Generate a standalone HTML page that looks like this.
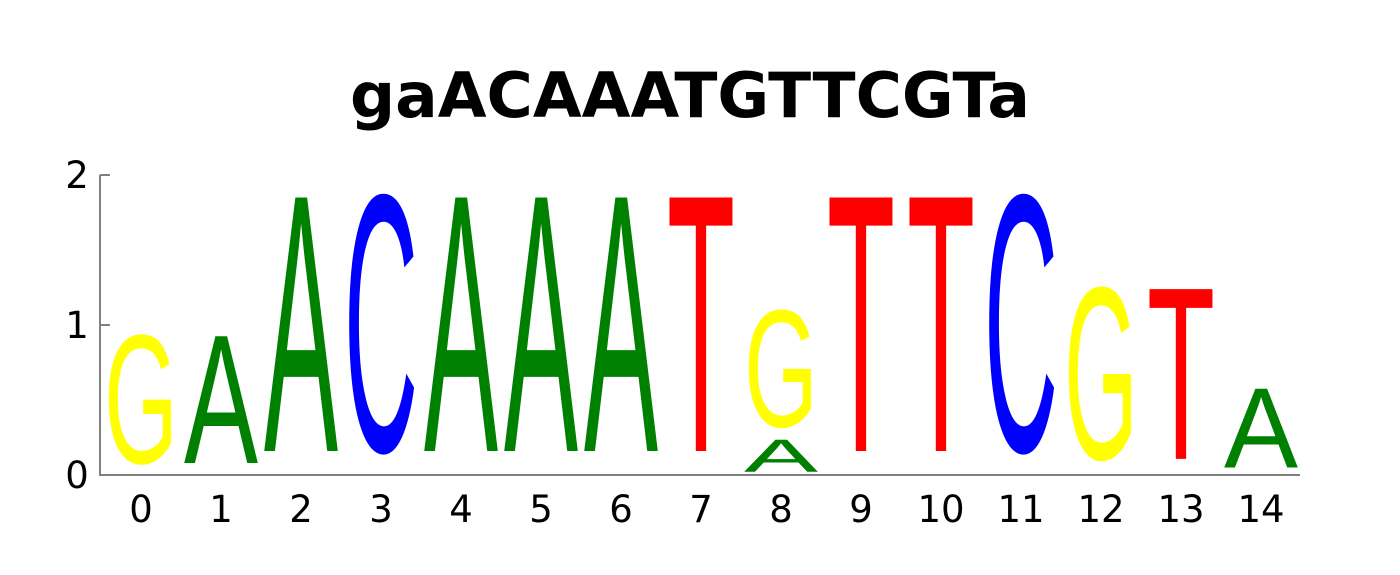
<!DOCTYPE html>
<html><head><meta charset="utf-8"><style>
html,body{margin:0;padding:0;background:#fff;}
svg{display:block;}
</style></head><body>
<svg id="chart" width="1400" height="575" viewBox="0 0 1400 575" xmlns="http://www.w3.org/2000/svg">
<text x="690" y="117" text-anchor="middle" font-family="DejaVu Sans, sans-serif" font-weight="bold" font-size="62" textLength="680" lengthAdjust="spacingAndGlyphs">gaACAAATGTTCGTa</text>
<g id="axes"></g>
<g id="letters"></g>
</svg>
<script>
// Data: stacked letters per position (bottom to top), heights in bits
const positions = [0,1,2,3,4,5,6,7,8,9,10,11,12,13,14];
const stackLetters = [["G"],["A"],["A"],["C"],["A"],["A"],["A"],["T"],["A","G"],["T"],["T"],["C"],["G"],["T"],["A"]];
const stackHeights = [[1.0],[1.0],[2.0],[2.0],[2.0],[2.0],[2.0],[2.0],[0.25,0.91],[2.0],[2.0],[2.0],[1.34],[1.34],[0.62]];
const yTicks = [0,1,2];

const NS = "http://www.w3.org/2000/svg";
const colors = {A:"#008000", C:"#0000ff", G:"#ffff00", T:"#ff0000"};
const x0 = 141, dx = 80, yBase = 475, yUnit = 150;
const xs = p => x0 + p*dx;
const ys = v => yBase - v*yUnit;

const axes = document.getElementById('axes');
function mk(tag, attrs, parent){const e=document.createElementNS(NS,tag);for(const k in attrs)e.setAttribute(k,attrs[k]);parent.appendChild(e);return e;}

const yAxis = mk('line',{x1:100,y1:ys(2),x2:100,y2:yBase,stroke:'#808080','stroke-width':2},axes);


const xAxis = mk('line',{x1:99,y1:yBase,x2:1300,y2:yBase,stroke:'#808080','stroke-width':2},axes);



yTicks.forEach(t=>{
  const tk = mk('line',{x1:100,y1:ys(t),x2:110,y2:ys(t),stroke:'#808080','stroke-width':2},axes);
  
  
  const lb = mk('text',{x:77,y:ys(t)+13,'text-anchor':'middle','font-family':'DejaVu Sans, sans-serif','font-size':37},axes);
  lb.textContent = t;
  
  
});

positions.forEach(p=>{
  const lb = mk('text',{x:xs(p),y:522,'text-anchor':'middle','font-family':'DejaVu Sans, sans-serif','font-size':37},axes);
  lb.textContent = p;
  
  
});

const lettersG = document.getElementById('letters');
positions.forEach((p,i)=>{
  let base = 0;
  stackLetters[i].forEach((L,j)=>{
    const h = stackHeights[i][j];
    const bot = base + h*0.08, top = base + h*0.925;
    const hPx = ys(bot) - ys(top);
    const g = mk('g',{transform:`translate(${xs(p)},${ys(bot)}) scale(1,${hPx/68.8})`},lettersG);
    const w = (L==='T') ? 68 : 74;
    const t = mk('text',{x:0,y:0,'text-anchor':'middle','font-family':'Liberation Sans, sans-serif','font-size':100,fill:colors[L],textLength:w,lengthAdjust:'spacingAndGlyphs'},g);
    t.textContent = L;
    
    
    base += h;
  });
});
</script>
</body></html>
